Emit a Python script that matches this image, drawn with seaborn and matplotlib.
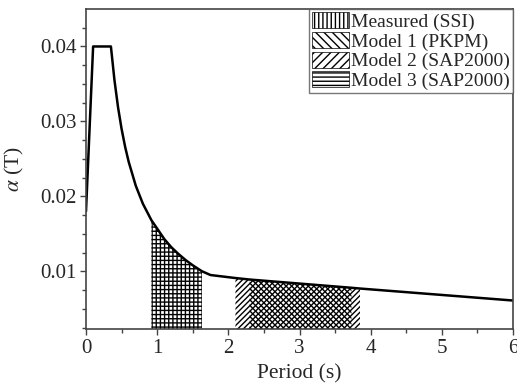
import numpy as np
import pandas as pd
import seaborn as sns
import matplotlib
matplotlib.use("Agg")
import matplotlib.pyplot as plt
from matplotlib.patches import Patch

# Response spectrum curve
period = [0.0, 0.10, 0.35, 0.40, 0.45, 0.50, 0.55, 0.60, 0.70, 0.80, 0.92, 1.00,
          1.10, 1.20, 1.30, 1.40, 1.50, 1.63, 1.75, 2.10, 2.30, 3.73, 3.85, 6.0]
alpha = [0.0180, 0.0400, 0.0400, 0.0355, 0.0319, 0.0290, 0.0266, 0.0246, 0.0214,
         0.0190, 0.0168, 0.0157, 0.0143, 0.0132, 0.0123, 0.0115, 0.0108, 0.0100,
         0.0095, 0.0091, 0.0089, 0.0078, 0.0077, 0.0061]

# Period bands (s) for each model
series = ["Measured (SSI)", "Model 1 (PKPM)", "Model 2 (SAP2000)", "Model 3 (SAP2000)"]
band_start = [0.92, 2.30, 2.10, 0.92]
band_end = [1.63, 3.73, 3.85, 1.63]
hatches = ["||||", "\\\\\\\\\\\\", "//////", "----"]

sns.set_theme(style="ticks")
plt.rcParams["font.family"] = ["Liberation Serif", "DejaVu Serif"]
plt.rcParams["mathtext.fontset"] = "stix"
plt.rcParams["hatch.linewidth"] = 1.0

fig = plt.figure(figsize=(5.17, 3.83), dpi=100)
ax = fig.add_axes([86 / 517, 54 / 383, 427 / 517, 320 / 383])

df = pd.DataFrame({"T": period, "a": alpha})
T = np.array(period)
A = np.array(alpha)
for name, s, e, h in zip(series, band_start, band_end, hatches):
    m = (T >= s - 1e-9) & (T <= e + 1e-9)
    ax.fill_between(T[m], 0, A[m], facecolor="none", edgecolor="black",
                    hatch=h, linewidth=0)

sns.lineplot(data=df, x="T", y="a", ax=ax, color="black", linewidth=1.8)

ax.set_xlim(0, 6)
ax.set_ylim(0.0023, 0.045)
ax.set_xticks([0, 1, 2, 3, 4, 5, 6])
ax.set_xticks(np.arange(0.5, 6, 1.0), minor=True)
ax.set_yticks([0.01, 0.02, 0.03, 0.04])
ax.set_yticks(np.arange(0.0025, 0.045, 0.0025), minor=True)
ax.set_yticklabels(["0.01", "0.02", "0.03", "0.04"])
ax.tick_params(axis="both", which="major", labelsize=15, length=4, width=1, color="#444444", pad=3)
ax.tick_params(axis="both", which="minor", length=3, width=1, color="#444444")
ax.set_xlabel("Period (s)", fontsize=15.5, labelpad=5)
ax.set_ylabel(r"$\alpha$ (T)", fontsize=15.5, labelpad=10)
for sp in ax.spines.values():
    sp.set_visible(True)
    sp.set_linewidth(1.2)
    sp.set_color("#444444")

handles = [Patch(facecolor="white", edgecolor="black", hatch=h, linewidth=0.5)
           for h in ["||||", "\\\\\\\\", "////", "----"]]
leg = ax.legend(handles, series, loc="upper right", fontsize=14, frameon=True,
                fancybox=False, edgecolor="#555555", borderaxespad=0.0,
                handlelength=1.9, handleheight=0.9, handletextpad=0.1,
                labelspacing=0.05, borderpad=0.15)
leg.get_frame().set_linewidth(1.0)

fig.savefig("out.png", dpi=100)
